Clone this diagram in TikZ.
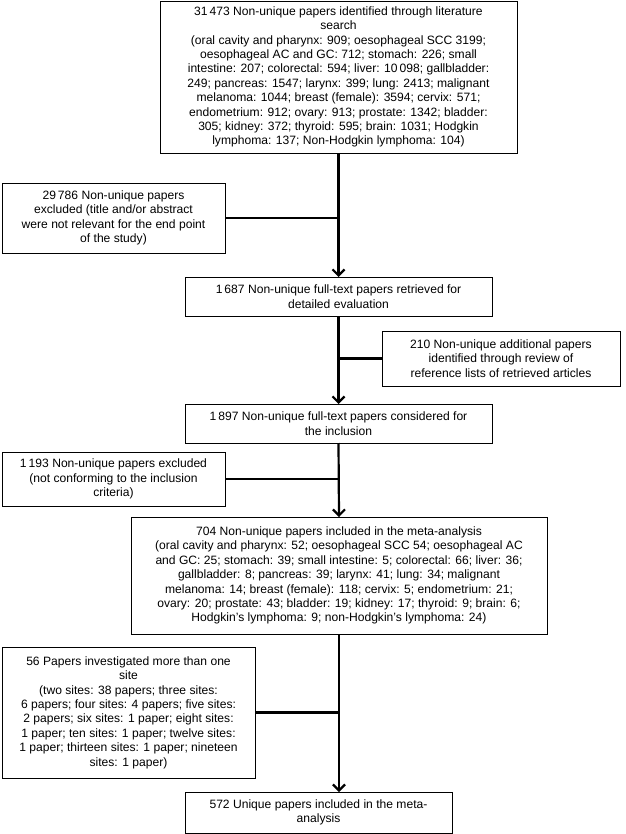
\documentclass[tikz,border=0pt]{standalone}
\usepackage{fontspec}
\setmainfont{Liberation Sans}
\usetikzlibrary{arrows.meta}

\begin{document}
\begin{tikzpicture}
[x=1pt,y=-1pt]
\tikzset{box/.style={draw,line width=.8pt,align=center,inner sep=0pt,outer sep=0pt,
  font=\fontsize{12.1}{14.4}\selectfont}}
\tikzset{flow/.style={draw,line width=2.2pt,-{Straight Barb[length=6pt,width=12pt,line width=2.2pt]}}}
\tikzset{link/.style={draw,line width=2.2pt}}
\useasboundingbox (0,0) rectangle (625,834);

\node [box,minimum width=357,minimum height=152] (top) at (338.5,77)
 {31\,473 Non-unique papers identified through literature\\
  search\\
  (oral cavity and pharynx: 909; oesophageal SCC 3199;\\
  oesophageal AC and GC: 712; stomach: 226; small\\
  intestine: 207; colorectal: 594; liver: 10\,098; gallbladder:\\
  249; pancreas: 1547; larynx: 399; lung: 2413; malignant\\
  melanoma: 1044; breast (female): 3594; cervix: 571;\\
  endometrium: 912; ovary: 913; prostate: 1342; bladder:\\
  305; kidney: 372; thyroid: 595; brain: 1031; Hodgkin\\
  lymphoma: 137; Non-Hodgkin lymphoma: 104)};
\node [box,minimum width=223,minimum height=70] (ex1) at (113.5,218)
 {29\,786 Non-unique papers\\
  excluded (title and/or abstract\\
  were not relevant for the end point\\
  of the study)};
\node [box,minimum width=307,minimum height=39] (b1687) at (338.5,296.5)
 {1\,687 Non-unique full-text papers retrieved for\\
  detailed evaluation};
\node [box,minimum width=238,minimum height=55] (add210) at (501,358.5)
 {210 Non-unique additional papers\\
  identified through review of\\
  reference lists of retrieved articles};
\node [box,minimum width=307,minimum height=39] (b1897) at (338.5,423.5)
 {1\,897 Non-unique full-text papers considered for\\
  the inclusion};
\node [box,minimum width=223,minimum height=54] (ex1193) at (113.5,479)
 {1\,193 Non-unique papers excluded\\
  (not conforming to the inclusion\\
  criteria)};
\node [box,minimum width=416,minimum height=117] (b704) at (339,575.5)
 {704 Non-unique papers included in the meta-analysis\\
  (oral cavity and pharynx: 52; oesophageal SCC 54; oesophageal AC\\
  and GC: 25; stomach: 39; small intestine: 5; colorectal: 66; liver: 36;\\
  gallbladder: 8; pancreas: 39; larynx: 41; lung: 34; malignant\\
  melanoma: 14; breast (female): 118; cervix: 5; endometrium: 21;\\
  ovary: 20; prostate: 43; bladder: 19; kidney: 17; thyroid: 9; brain: 6;\\
  Hodgkin’s lymphoma: 9; non-Hodgkin’s lymphoma: 24)};
\node [box,minimum width=253,minimum height=131] (ex56) at (128.5,712.5)
 {56 Papers investigated more than one\\
  site\\
  (two sites: 38 papers; three sites:\\
  6 papers; four sites: 4 papers; five sites:\\
  2 papers; six sites: 1 paper; eight sites:\\
  1 paper; ten sites: 1 paper; twelve sites:\\
  1 paper; thirteen sites: 1 paper; nineteen\\
  sites: 1 paper)};
\node [box,minimum width=267,minimum height=41] (b572) at (318.5,812.5)
 {572 Unique papers included in the meta-\\
  analysis};

\foreach \from/\to in {top/b1687,b1687/b1897,b1897/b704}
	\draw [flow] (\from.south) -- (\to.north);
\draw [flow] (b704.south) -- (b704.south |- b572.north);

\foreach \n in {ex1,ex1193,ex56}
	\draw [link] (\n.east) -- (\n.east -| b704.south);
\draw [link] (add210.west) -- (add210.west -| b704.south);

\end{tikzpicture}
\end{document}
